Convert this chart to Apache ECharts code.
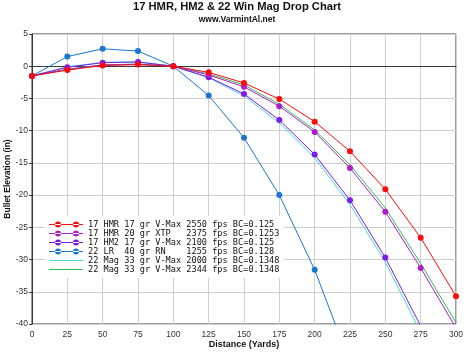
<!DOCTYPE html>
<html>
<head>
<meta charset="utf-8">
<script src="https://cdn.jsdelivr.net/npm/echarts@6/dist/echarts.min.js"></script>
<style>
html,body{margin:0;padding:0;background:#fff;}
#chart{width:474px;height:355px;}
</style>
</head>
<body>
<div id="chart"></div>
<script>
// Distances (yards)
const distances = [0, 25, 50, 75, 100, 125, 150, 175, 200, 225, 250, 275, 300];
// Drop values (inches)
const hmr17gr = [-1.5, -0.6, 0.1, 0.25, 0, -0.95, -2.6, -5.1, -8.6, -13.2, -19.1, -26.6, -35.7];
const hmr20gr = [-1.5, -0.5, 0.2, 0.3, 0, -1.35, -3.2, -6.2, -10.2, -15.8, -22.6, -31.3, -40.6];
const hm2_17gr = [-1.5, -0.15, 0.55, 0.65, 0, -1.7, -4.3, -8.35, -13.7, -20.8, -29.7, -40.3, -52.5];
const lr22 = [-1.5, 1.5, 2.7, 2.35, 0, -4.55, -11.1, -20.0, -31.6, -46.0];
const mag22_2000 = [-1.5, -0.1, 0.6, 0.7, 0, -1.8, -4.6, -8.8, -14.2, -21.5, -30.4, -41.3, -53.5];
const mag22_2344 = [-1.5, -0.45, 0.2, 0.35, 0, -1.2, -2.9, -5.9, -9.9, -15.3, -22.0, -30.6, -39.8];

const seriesNames = [
  '17 HMR 17 gr V-Max 2550 fps BC=0.125',
  '17 HMR 20 gr XTP   2375 fps BC=0.1253',
  '17 HM2 17 gr V-Max 2100 fps BC=0.125',
  '22 LR  40 gr RN    1255 fps BC=0.128',
  '22 Mag 33 gr V-Max 2000 fps BC=0.1348',
  '22 Mag 33 gr V-Max 2344 fps BC=0.1348'
];
const seriesValues = [hmr17gr, hmr20gr, hm2_17gr, lr22, mag22_2000, mag22_2344];
const seriesColors = ['#ff0a0a', '#ad1ec8', '#7c1ae6', '#1a76d2', '#3fd8e2', '#2fbf5c'];
const seriesMarkers = [true, true, true, true, false, false];

const iconDots = 'path://M0 3.4H34V4.6H0Z M6 4a3 3 0 1 0 6 0a3 3 0 1 0 -6 0Z M24 4a3 3 0 1 0 6 0a3 3 0 1 0 -6 0Z';
const iconLine = 'path://M0 1L0 1M34 7L34 7M0 3.4H34V4.6H0Z';

const chart = echarts.init(document.getElementById('chart'));

const series = seriesNames.map((name, i) => ({
  name: name,
  type: 'line',
  data: seriesValues[i].map((v, k) => [distances[k], v]),
  showSymbol: seriesMarkers[i],
  symbol: 'circle',
  symbolSize: 6,
  lineStyle: { width: 1, color: seriesColors[i] },
  itemStyle: { color: seriesColors[i], borderWidth: 0 },
  color: seriesColors[i],
  smooth: false,
  clip: true,
  z: 10 - i,
  animation: false
}));

chart.setOption({
  animation: false,
  backgroundColor: '#ffffff',
  title: [
    {
      text: '17 HMR, HM2 & 22 Win Mag Drop Chart',
      left: 'center',
      top: 1,
      padding: 0,
      textStyle: { fontFamily: 'Liberation Sans, Arial, sans-serif', fontSize: 11.2, fontWeight: 'bold', color: '#111' }
    },
    {
      text: 'www.VarmintAl.net',
      left: 'center',
      top: 15,
      padding: 0,
      textStyle: { fontFamily: 'Liberation Sans, Arial, sans-serif', fontSize: 8.5, fontWeight: 'bold', color: '#111' }
    }
  ],
  grid: {
    left: 32, right: 18, top: 34, bottom: 31,
    containLabel: false,
    outerBoundsMode: 'none',
    show: true, borderColor: '#3a3a3a', borderWidth: 1, backgroundColor: '#fff'
  },
  legend: {
    orient: 'vertical',
    left: 45,
    top: 216,
    padding: [4, 4, 4, 4],
    backgroundColor: '#ffffff',
    itemWidth: 34,
    itemHeight: 6,
    itemGap: 0,
    itemTextGap: 7,
    selectedMode: false,
    itemStyle: { borderWidth: 0 },
    lineStyle: { width: 0 },
    textStyle: { fontFamily: 'DejaVu Sans Mono, monospace', fontSize: 8.6, lineHeight: 9, color: '#111' },
    data: seriesNames.map((n, i) => ({
      name: n,
      icon: seriesMarkers[i] ? iconDots : iconLine,
      itemStyle: { color: seriesColors[i], borderWidth: 0 }
    }))
  },
  xAxis: {
    type: 'value',
    min: 0, max: 300, interval: 25,
    name: 'Distance (Yards)',
    nameLocation: 'middle',
    nameGap: 16,
    nameMoveOverlap: false,
    nameTextStyle: { fontFamily: 'Liberation Sans, Arial, sans-serif', fontSize: 9, fontWeight: 'bold', color: '#111' },
    axisLine: { show: true, lineStyle: { color: '#3a3a3a', width: 1 } },
    axisTick: { show: false },
    axisLabel: { fontFamily: 'Liberation Sans, Arial, sans-serif', fontSize: 8.5, color: '#333', margin: 6 },
    splitLine: { show: true, lineStyle: { color: '#cfcfcf', width: 1 } }
  },
  yAxis: {
    type: 'value',
    min: -40, max: 5, interval: 5,
    name: 'Bullet Elevation (in)',
    nameLocation: 'middle',
    nameGap: 20,
    nameMoveOverlap: false,
    nameTextStyle: { fontFamily: 'Liberation Sans, Arial, sans-serif', fontSize: 8.5, fontWeight: 'bold', color: '#111' },
    axisLine: { show: true, lineStyle: { color: '#3a3a3a', width: 1 } },
    axisTick: { show: true, length: 3, lineStyle: { color: '#3a3a3a' } },
    axisLabel: { fontFamily: 'Liberation Sans, Arial, sans-serif', fontSize: 8.5, color: '#333', margin: 4 },
    splitLine: { show: true, lineStyle: { color: '#cfcfcf', width: 1 } }
  },
  series: series
});
</script>
</body>
</html>
